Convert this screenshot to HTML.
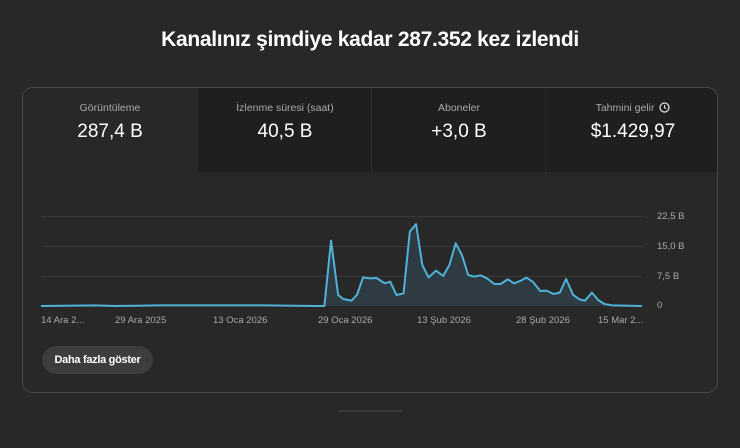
<!DOCTYPE html><html><head><meta charset="utf-8"><style>
body{margin:0;width:740px;height:448px;background:#282828;font-family:"Liberation Sans",sans-serif;color:#fff;overflow:hidden;position:relative}
.t{position:absolute;top:28px;left:0;width:740px;text-align:center;font-size:21px;font-weight:bold;letter-spacing:-0.3px}
.card{position:absolute;left:22px;top:87px;width:694px;height:304px;border:1px solid #4a4a4a;border-radius:11px;overflow:hidden}
.tab{position:absolute;top:0;height:84px;width:174px;text-align:center;background:#1f1f1f}
.tab .l{font-size:10.5px;color:#aaa;margin-top:14px}
.tab .v{font-size:19px;margin-top:7px}
.btn{position:absolute;left:19px;top:258px;width:111px;height:28px;border-radius:14px;background:#3d3d3d;font-size:11px;font-weight:bold;text-align:center;line-height:28px;letter-spacing:-0.3px}
.bar{position:absolute;left:338px;top:410px;width:64px;height:2px;background:#3a3a3a}
</style></head><body>
<div class="t">Kanalınız şimdiye kadar 287.352 kez izlendi</div>
<div class="card">
<div class="tab" style="left:0;background:#282828"><div class="l">Görüntüleme</div><div class="v">287,4 B</div></div>
<div class="tab" style="left:174px;border-left:1px solid #2c2c2c"><div class="l">İzlenme süresi (saat)</div><div class="v">40,5 B</div></div>
<div class="tab" style="left:348px;border-left:1px solid #2c2c2c"><div class="l">Aboneler</div><div class="v">+3,0 B</div></div>
<div class="tab" style="left:522px;border-left:1px solid #2c2c2c;width:174px"><div class="l">Tahmini gelir <svg width="11" height="11" style="vertical-align:-2px;margin-left:2px"><circle cx="5.5" cy="5.5" r="4.5" fill="none" stroke="#ddd" stroke-width="1.3"/><path d="M5.5 3v2.7l1.8 1" fill="none" stroke="#ddd" stroke-width="1.1"/></svg></div><div class="v">$1.429,97</div></div>
<div class="btn">Daha fazla göster</div>
</div>
<svg style="position:absolute;left:0;top:0" width="740" height="448">
<g stroke="#3a3a3a" stroke-width="1"><line x1="41" x2="642" y1="216.5" y2="216.5"/><line x1="41" x2="642" y1="246.5" y2="246.5"/><line x1="41" x2="642" y1="276.5" y2="276.5"/></g>
<line x1="41" x2="642" y1="305.5" y2="305.5" stroke="#888"/>
<g transform="matrix(0.4167,0,0,0.3333,32.7,200)">
<polygon fill="#2f3b42" points="20,318 150,316 200,318 300,316 460,316 560,316 680,318 700,318 716,122 733,285 745,297 765,302 778,285 793,232 808,235 825,234 845,250 858,245 873,285 890,280 905,95 920,72 935,195 950,232 968,212 985,228 1000,195 1015,130 1030,165 1045,225 1060,230 1075,226 1090,235 1108,252 1123,252 1140,238 1155,250 1170,243 1185,233 1200,245 1218,273 1233,272 1250,282 1265,278 1280,237 1297,285 1312,298 1325,302 1342,278 1357,300 1372,312 1390,316 1462,318"/>
<polyline fill="none" stroke="#4fb3d9" stroke-width="2" vector-effect="non-scaling-stroke" stroke-linejoin="round" points="20,318 150,316 200,318 300,316 460,316 560,316 680,318 700,318 716,122 733,285 745,297 765,302 778,285 793,232 808,235 825,234 845,250 858,245 873,285 890,280 905,95 920,72 935,195 950,232 968,212 985,228 1000,195 1015,130 1030,165 1045,225 1060,230 1075,226 1090,235 1108,252 1123,252 1140,238 1155,250 1170,243 1185,233 1200,245 1218,273 1233,272 1250,282 1265,278 1280,237 1297,285 1312,298 1325,302 1342,278 1357,300 1372,312 1390,316 1462,318"/>
</g>
<g font-family="Liberation Sans" font-size="9.5" fill="#aaa">
<text x="657" y="219">22,5 B</text><text x="657" y="249">15,0 B</text><text x="657" y="279">7,5 B</text><text x="657" y="308">0</text>
<text x="41" y="323">14 Ara 2...</text><text x="115" y="323">29 Ara 2025</text><text x="213" y="323">13 Oca 2026</text><text x="318" y="323">29 Oca 2026</text><text x="417" y="323">13 Şub 2026</text><text x="516" y="323">28 Şub 2026</text><text x="598" y="323">15 Mar 2...</text>
</g>
</svg>
<div class="bar"></div>
</body></html>
